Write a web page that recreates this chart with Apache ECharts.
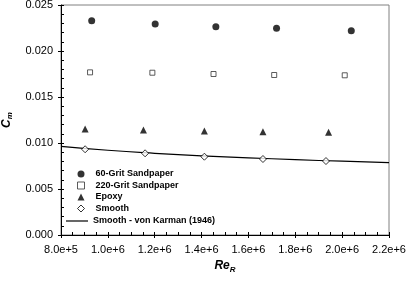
<!DOCTYPE html>
<html>
<head>
<meta charset="utf-8">
<script src="https://cdn.jsdelivr.net/npm/echarts@6/dist/echarts.min.js"></script>
<style>
  html, body { margin: 0; padding: 0; background: #fff; }
  #main { width: 406px; height: 281px; }
</style>
</head>
<body>
<div id="main"></div>
<script>
// values
const grit60 = [[9.31e5, 0.02329], [1.202e6, 0.02293], [1.461e6, 0.02264], [1.720e6, 0.02247], [2.039e6, 0.02221]]
const grit220 = [[9.24e5, 0.01768], [1.190e6, 0.01764], [1.451e6, 0.01750], [1.710e6, 0.01739], [2.011e6, 0.01736]]
const epoxy = [[9.03e5, 0.01152], [1.152e6, 0.01141], [1.412e6, 0.01130], [1.662e6, 0.01123], [1.942e6, 0.01116]]
const smooth = [[9.03e5, 0.00932], [1.159e6, 0.00888], [1.412e6, 0.00851], [1.662e6, 0.00826], [1.931e6, 0.00804]]
const vonKarman = [[8.0e5, 0.00964], [1.0e6, 0.00921], [1.2e6, 0.00888], [1.4e6, 0.00861], [1.6e6, 0.00839], [1.8e6, 0.00819], [2.0e6, 0.00802], [2.2e6, 0.00787]]

const names = ['60-Grit Sandpaper', '220-Grit Sandpaper', 'Epoxy', 'Smooth', 'Smooth - von Karman (1946)']
const font = 'Arial, "Liberation Sans", sans-serif'

let myChart = echarts.init(document.getElementById('main'), null, { renderer: 'canvas' })

const labelStyle = { fontFamily: font, fontSize: 11, color: '#000' }
const legendText = { fontFamily: font, fontSize: 9, fontWeight: 'bold', color: '#000', lineHeight: 11 }

myChart.setOption({
  animation: false,
  grid: {
    left: 61, right: 17, top: 5, bottom: 46,
    outerBoundsMode: 'none',
    show: true, borderColor: '#808080', borderWidth: 1
  },
  legend: [
    {
      data: [
        { name: names[0], icon: 'circle' },
        { name: names[1], icon: 'rect', itemStyle: { color: '#fff', borderColor: '#333', borderWidth: 1 } },
        { name: names[2], icon: 'triangle' },
        { name: names[3], icon: 'diamond', itemStyle: { color: '#fff', borderColor: '#000', borderWidth: 1 } }
      ],
      orient: 'vertical',
      left: 77, top: 168.5, padding: 0,
      itemWidth: 7, itemHeight: 7, itemGap: 0.5,
      textStyle: Object.assign({ padding: [0, 0, 0, 6] }, legendText)
    },
    {
      data: [{ name: names[4], icon: 'rect' }],
      orient: 'vertical',
      left: 66, top: 215.5, padding: 0,
      itemWidth: 22, itemHeight: 1.2,
      textStyle: legendText
    }
  ],
  xAxis: [
    {
      type: 'value',
      position: 'bottom',
      min: 8e5, max: 2.2e6, interval: 2e5,
      name: '{a|Re}{b|R}',
      nameLocation: 'middle',
      nameGap: 16,
      nameTextStyle: {
        rich: {
          a: { fontFamily: font, fontSize: 12, fontWeight: 'bold', fontStyle: 'italic', color: '#000' },
          b: { fontFamily: font, fontSize: 8, fontWeight: 'bold', fontStyle: 'italic', color: '#000', padding: [7, 0, 0, 0] }
        }
      },
      axisLine: { lineStyle: { color: '#000', width: 1 } },
      axisTick: { show: true, length: 3, lineStyle: { color: '#000' } },
      axisLabel: Object.assign({ margin: 9, formatter: v => v.toExponential(1) }, labelStyle),
      splitLine: { show: false }
    },
    {
      type: 'value',
      position: 'bottom',
      min: 8e5, max: 2.2e6, interval: 2e5,
      axisLine: { show: false },
      axisTick: { show: true, inside: true, length: 3, lineStyle: { color: '#000' } },
      minorTick: { show: true, splitNumber: 4, length: 3, lineStyle: { color: '#000' } },
      axisLabel: { show: false },
      splitLine: { show: false }
    }
  ],
  yAxis: [
    {
      type: 'value',
      position: 'left',
      min: 0, max: 0.025, interval: 0.005,
      name: '{a|C}{b|m}',
      nameLocation: 'middle',
      nameGap: 47,
      nameRotate: 90,
      nameTextStyle: {
        rich: {
          a: { fontFamily: font, fontSize: 12, fontWeight: 'bold', fontStyle: 'italic', color: '#000' },
          b: { fontFamily: font, fontSize: 8, fontWeight: 'bold', fontStyle: 'italic', color: '#000', padding: [7, 0, 0, 0] }
        }
      },
      axisLine: { show: true, lineStyle: { color: '#000', width: 1 } },
      axisTick: { show: true, length: 3, lineStyle: { color: '#000' } },
      axisLabel: Object.assign({ margin: 8, formatter: v => v.toFixed(3) }, labelStyle),
      splitLine: { show: false }
    },
    {
      type: 'value',
      position: 'left',
      min: 0, max: 0.025, interval: 0.005,
      axisLine: { show: false },
      axisTick: { show: true, inside: true, length: 3, lineStyle: { color: '#000' } },
      minorTick: { show: true, splitNumber: 5, length: 3, lineStyle: { color: '#000' } },
      axisLabel: { show: false },
      splitLine: { show: false }
    }
  ],
  series: [
    {
      name: names[0], type: 'scatter', data: grit60,
      symbol: 'circle', symbolSize: 7,
      itemStyle: { color: '#000' }
    },
    {
      name: names[1], type: 'scatter', data: grit220,
      symbol: 'rect', symbolSize: 5,
      itemStyle: { color: '#fff', borderColor: '#333', borderWidth: 1 }
    },
    {
      name: names[2], type: 'scatter', data: epoxy,
      symbol: 'triangle', symbolSize: 7,
      itemStyle: { color: '#000' }
    },
    {
      name: names[3], type: 'scatter', data: smooth,
      symbol: 'diamond', symbolSize: 7,
      itemStyle: { color: '#fff', borderColor: '#000', borderWidth: 1 },
      z: 3
    },
    {
      name: names[4], type: 'line', data: vonKarman,
      smooth: true, symbol: 'none',
      lineStyle: { color: '#000', width: 1.2 },
      itemStyle: { color: '#000' },
      z: 2
    }
  ]
})

window.addEventListener('resize', () => {
  myChart.resize()
})
</script>
</body>
</html>
